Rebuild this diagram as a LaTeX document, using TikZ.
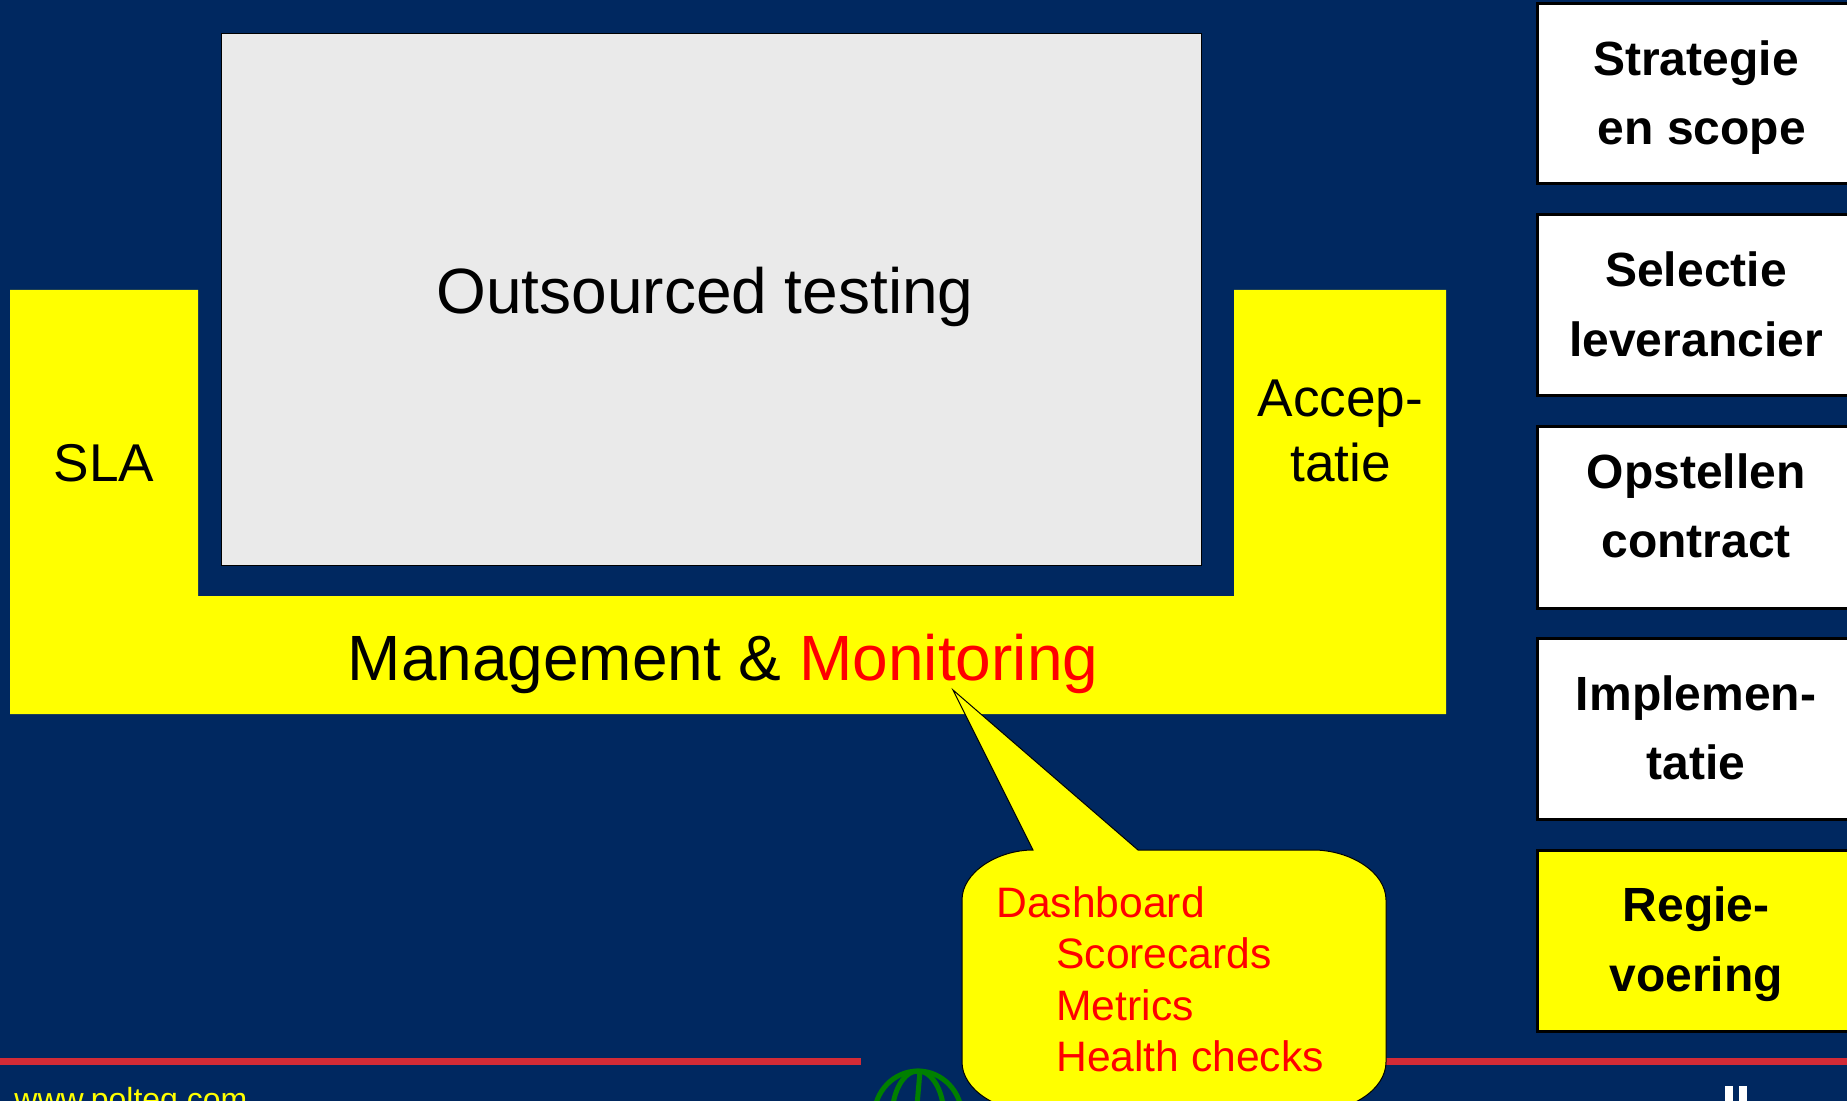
\documentclass[tikz,border=0pt]{standalone}
\usepackage{fontspec}
\setmainfont{Liberation Sans}
\definecolor{navy}{RGB}{0,40,96}
\definecolor{panel}{HTML}{EAEAEA}
\definecolor{redline}{HTML}{D22B36}
\definecolor{globe}{HTML}{008000}
\definecolor{sun}{RGB}{255,255,0}
\definecolor{alert}{RGB}{255,0,0}
\tikzset{
  txt/.style={inner sep=0pt,anchor=base},
  txtl/.style={inner sep=0pt,anchor=base west},
  big/.style={font=\fontsize{32}{38}\selectfont},
  mid/.style={font=\fontsize{26.6}{32}\selectfont},
  small/.style={font=\fontsize{21.3}{25}\selectfont,text=alert},
  stepbox/.style={draw=black,line width=1.5pt,fill=white},
  steptext/.style={txt,font=\fontsize{24}{28}\selectfont\bfseries},
  rule/.style={fill=redline},
}
\begin{document}
\begin{tikzpicture}[x=0.5pt,y=-0.5pt]
\useasboundingbox (0,0) rectangle (1847,1101);
\clip (0,0) rectangle (1847,1101);
\fill[navy] (0,0) rectangle (1847,1101);
% footer
\fill[rule] (0,1057.5) rectangle (861,1064.5);
\fill[rule] (1380,1057.5) rectangle (1847,1064.5);
\node[txtl,text=sun,font=\fontsize{16}{19}\selectfont] (url) at (14,1110) {www.polteq.com};
\fill[white] (1725,1086) rectangle (1733,1101);
\fill[white] (1739,1086) rectangle (1747,1101);
\begin{scope}[globe,line width=2.5pt]
  \draw (918,1117) circle [x radius=44,y radius=46];
  \draw (918,1117) circle [x radius=26,y radius=46];
  \draw (920,1071) -- (916,1117);
\end{scope}
% panel
\filldraw[draw=black,line width=0.5pt,fill=panel] (221.5,33.5) rectangle (1201.5,565);
\node[txt,big] (outs) at (705,314) {Outsourced testing};
% U shape
\fill[sun] (10,290) -- (198,290) -- (198,596) -- (1234,596) -- (1234,290) -- (1446,290) -- (1446,714) -- (10,714) -- cycle;
\node[txt,mid] (sla) at (104,481) {SLA};
\node[txt,mid] (acc1) at (1340.5,417) {Accep-};
\node[txt,mid] (acc2) at (1340.5,481) {tatie};
\node[txt,big] (mm) at (723,680) {Management \& \textcolor{alert}{Monitoring}};
% callout
\filldraw[draw=black,line width=0.5pt,fill=sun]
  (1033,850) -- (953,690) -- (1138,850) -- (1313,850)
  .. controls (1350,850) and (1386,872) .. (1386,900)
  -- (1386,1062)
  .. controls (1386,1090) and (1350,1112) .. (1313,1112)
  -- (1035,1112)
  .. controls (998,1112) and (962,1090) .. (962,1062)
  -- (962,900)
  .. controls (962,872) and (998,850) .. (1033,850) -- cycle;
\node[txtl,small] (d1) at (996,917) {Dashboard};
\node[txtl,small] (d2) at (1056,968) {Scorecards};
\node[txtl,small] (d3) at (1056,1020) {Metrics};
\node[txtl,small] (d4) at (1056,1071) {Health checks};
% process steps
\filldraw[stepbox] (1537,3.5) rectangle (1860,184);
\filldraw[stepbox] (1537,215) rectangle (1860,396);
\filldraw[stepbox] (1537,427) rectangle (1860,608);
\filldraw[stepbox] (1537,638) rectangle (1860,819);
\filldraw[stepbox,fill=sun] (1537,850) rectangle (1860,1031);
\node[steptext] (s1a) at (1696,76) {Strategie};
\node[steptext] (s1b) at (1702,145) {en scope};
\node[steptext] (s2a) at (1696,287) {Selectie};
\node[steptext] (s2b) at (1696,357) {leverancier};
\node[steptext] (s3a) at (1696,488) {Opstellen};
\node[steptext] (s3b) at (1696,557) {contract};
\node[steptext] (s4a) at (1696,710) {Implemen-};
\node[steptext] (s4b) at (1696,779) {tatie};
\node[steptext] (s5a) at (1696,921) {Regie-};
\node[steptext] (s5b) at (1696,991) {voering};
\end{tikzpicture}
\end{document}
